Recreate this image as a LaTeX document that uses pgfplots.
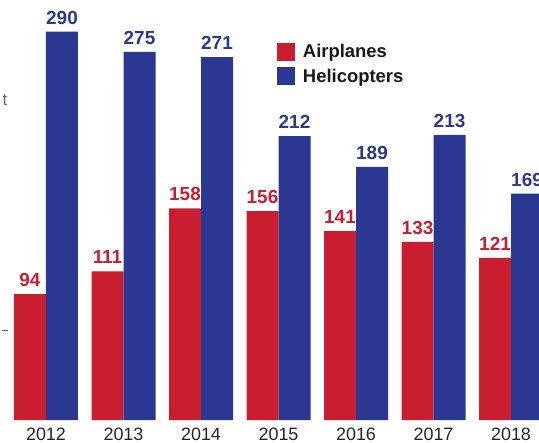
\documentclass[border=0pt]{standalone}
\usepackage{pgfplots}
\pgfplotsset{compat=1.18}
\usepackage{fontspec}
\setmainfont{Liberation Sans}
\definecolor{cred}{RGB}{200,30,48}
\definecolor{cblue}{RGB}{42,56,145}
\begin{document}
\begin{tikzpicture}
\path[use as bounding box] (0,-23bp) rectangle (539bp,420bp);
\clip (0,-23bp) rectangle (539bp,420bp);
\begin{axis}[at={(0,0)}, anchor=south west, scale only axis,
 width=539bp, height=420bp,
 xmin=-0.5935, xmax=6.361, ymin=0, ymax=313.7,
 ybar=0pt, bar width=32bp,
 /pgf/number format/assume math mode=true,
 axis line style={draw=none}, tick style={draw=none}, ytick=\empty,
 xtick={0,1,2,3,4,5,6}, xticklabels={2012,2013,2014,2015,2016,2017,2018},
 xticklabel style={font=\fontsize{18}{18}\selectfont, text=black!85},
 nodes near coords,
 every node near coord/.append style={font=\bfseries\fontsize{19}{19}\selectfont, yshift=4bp},
 legend style={at={(0.508,0.905)}, anchor=north west, draw=none, fill=none,
   font=\bfseries\fontsize{18.5}{20}\selectfont, row sep=6bp, text=black!90,
   /tikz/every odd column/.append style={column sep=6bp}},
 legend cell align=left,
 legend image code/.code={\fill[#1] (0bp,-9bp) rectangle (18bp,9bp);},
 clip=false]
\addplot[fill=cred, draw=none, every node near coord/.append style={text=cred}]
 coordinates {(0,94)(1,111)(2,158)(3,156)(4,141)(5,133)(6,121)};
\addplot[fill=cblue, draw=none, every node near coord/.append style={text=cblue}]
 coordinates {(0,290)(1,275)(2,271)(3,212)(4,189)(5,213)(6,169)};
\legend{Airplanes,Helicopters}
\end{axis}
\node[text=black!60, font=\fontsize{17}{17}\selectfont] at (5bp,320bp) {t};
\draw[black!60, line width=0.6pt] (2bp,90bp) -- (8bp,90bp);
\end{tikzpicture}
\end{document}
